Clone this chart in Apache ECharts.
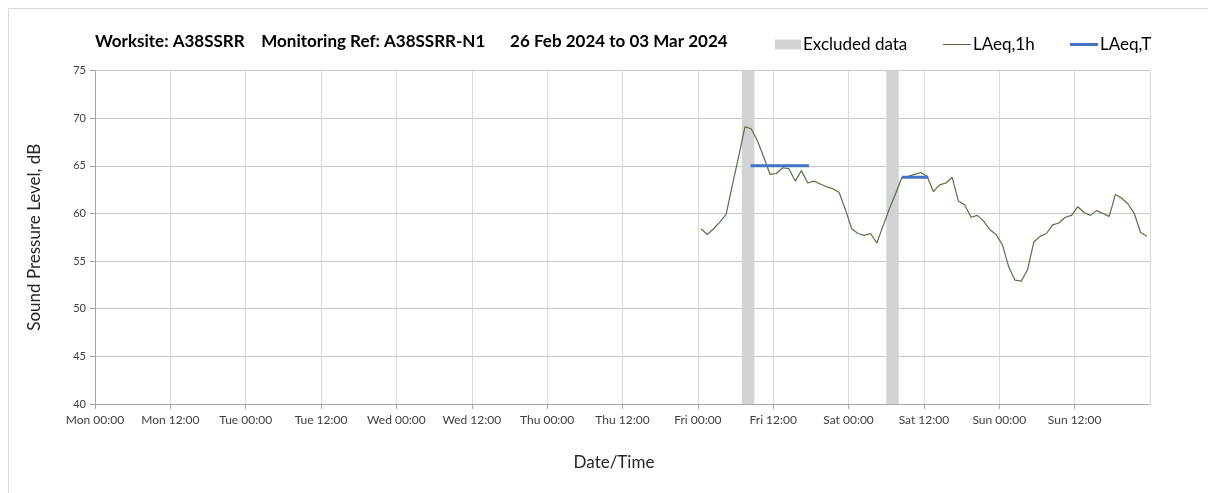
<!DOCTYPE html>
<html>
<head>
<meta charset="utf-8">
<script src="https://cdn.jsdelivr.net/npm/echarts@6/dist/echarts.min.js"></script>
<style>
  html, body { margin: 0; padding: 0; background: #fff; }
  #chart { width: 1208px; height: 493px; }
</style>
</head>
<body>
<div id="chart"></div>
<script>
// hours counted from Mon 26 Feb 2024 00:00
const dayNames = ['Mon', 'Tue', 'Wed', 'Thu', 'Fri', 'Sat', 'Sun']
const yTicks = [40, 45, 50, 55, 60, 65, 70, 75]

// LAeq,1h, one value per hour, plotted mid-hour, Fri 00:30 .. Sun 23:30
const firstHour = 96.5
const laeq1hFri = [58.4, 57.8, 58.4, 59.1, 59.9, 63.0, 66.0, 69.1, 68.9, 67.6, 65.9, 64.1,
  64.2, 64.8, 64.7, 63.4, 64.5, 63.2, 63.4, 63.1, 62.8, 62.6, 62.2, 60.4]
const laeq1hSat = [58.4, 57.9, 57.7, 57.9, 56.9, 58.7, 60.5, 62.1, 63.8, 63.9, 64.1, 64.3,
  63.9, 62.3, 63.0, 63.2, 63.8, 61.3, 60.9, 59.6, 59.8, 59.2, 58.3, 57.8]
const laeq1hSun = [56.7, 54.4, 53.0, 52.9, 54.1, 57.0, 57.6, 57.9, 58.8, 59.0, 59.6, 59.8,
  60.7, 60.1, 59.8, 60.3, 60.0, 59.7, 62.0, 61.6, 61.0, 60.0, 58.0, 57.6]

// LAeq,T periods: [start hour, end hour, level]
const laeqT = [
  [104.4, 113.7, 65.0],
  [128.5, 132.7, 63.8]
]

// excluded periods: [start hour, end hour]
const excluded = [
  [103, 105],
  [126, 128]
]

const laeq1h = laeq1hFri.concat(laeq1hSat, laeq1hSun).map((v, i) => [firstHour + i, v])

const laeqTData = []
laeqT.forEach(p => {
  laeqTData.push([p[0], p[2]], [p[1], p[2]], [p[1], null])
})

const font = 'Lato, "Open Sans", sans-serif'
const legendText = { fontSize: 17, color: '#000', padding: [0, 0, 0, -3] }
const chart = echarts.init(document.getElementById('chart'))

chart.setOption({
  animation: false,
  textStyle: { fontFamily: font },
  graphic: [{
    type: 'rect',
    shape: { x: 8.5, y: 8.5, width: 1300, height: 600 },
    style: { fill: 'none', stroke: '#d9d9d9', lineWidth: 1 },
    silent: true
  }, {
    type: 'text',
    left: 95,
    top: 33,
    style: {
      text: 'Worksite: A38SSRR    Monitoring Ref: A38SSRR-N1      26 Feb 2024 to 03 Mar 2024',
      font: 'bold 17px ' + font,
      fill: '#000'
    }
  }, {
    type: 'text',
    x: 614,
    y: 463,
    style: {
      text: 'Date/Time',
      font: '17px ' + font,
      fill: '#262626',
      align: 'center',
      verticalAlign: 'middle'
    }
  }],
  legend: [{
    data: ['Excluded data'],
    left: 775,
    top: 36,
    padding: 0,
    icon: 'rect',
    itemWidth: 26,
    itemHeight: 10,
    textStyle: legendText
  }, {
    data: ['LAeq,1h'],
    left: 943,
    top: 36,
    padding: 0,
    icon: 'rect',
    itemWidth: 28,
    itemHeight: 1,
    textStyle: legendText
  }, {
    data: ['LAeq,T'],
    left: 1070,
    top: 36,
    padding: 0,
    icon: 'rect',
    itemWidth: 28,
    itemHeight: 3,
    textStyle: legendText
  }],
  grid: {
    left: 95,
    right: 58,
    top: 70.6,
    bottom: 89,
    containLabel: false
  },
  xAxis: {
    type: 'value',
    min: 0,
    max: 168,
    interval: 12,
    axisLine: { lineStyle: { color: '#a6a6a6' } },
    axisTick: { show: true, length: 5, lineStyle: { color: '#a6a6a6' } },
    axisLabel: {
      fontSize: 12,
      color: '#404040',
      margin: 10,
      showMaxLabel: false,
      formatter: function (v) {
        if (v >= 168) return ''
        const d = Math.floor(v / 24)
        return dayNames[d] + (v % 24 === 0 ? ' 00:00' : ' 12:00')
      }
    },
    splitLine: { show: true, lineStyle: { color: '#d9d9d9' } }
  },
  yAxis: {
    type: 'value',
    min: yTicks[0],
    max: yTicks[yTicks.length - 1],
    interval: 5,
    name: 'Sound Pressure Level, dB',
    nameLocation: 'middle',
    nameGap: 52,
    nameTextStyle: { fontSize: 17, color: '#262626' },
    axisLine: { show: true, lineStyle: { color: '#a6a6a6' } },
    axisTick: { show: true, length: 5, lineStyle: { color: '#a6a6a6' } },
    axisLabel: { fontSize: 11, color: '#404040', margin: 9 },
    splitLine: { show: true, lineStyle: { color: '#c8c8c8' } }
  },
  series: [{
    name: 'Excluded data',
    type: 'line',
    data: [],
    color: '#d3d3d3',
    markArea: {
      silent: true,
      itemStyle: { color: '#d3d3d3' },
      data: excluded.map(e => [{ xAxis: e[0] }, { xAxis: e[1] }])
    }
  }, {
    name: 'LAeq,1h',
    type: 'line',
    data: laeq1h,
    color: '#557240',
    symbol: 'none',
    lineStyle: { width: 1.2, color: '#557240' },
    z: 3
  }, {
    name: 'LAeq,T',
    type: 'line',
    data: laeqTData,
    color: '#4472c4',
    symbol: 'none',
    connectNulls: false,
    lineStyle: { width: 3, color: '#4472c4' },
    z: 4
  }]
})
</script>
</body>
</html>
